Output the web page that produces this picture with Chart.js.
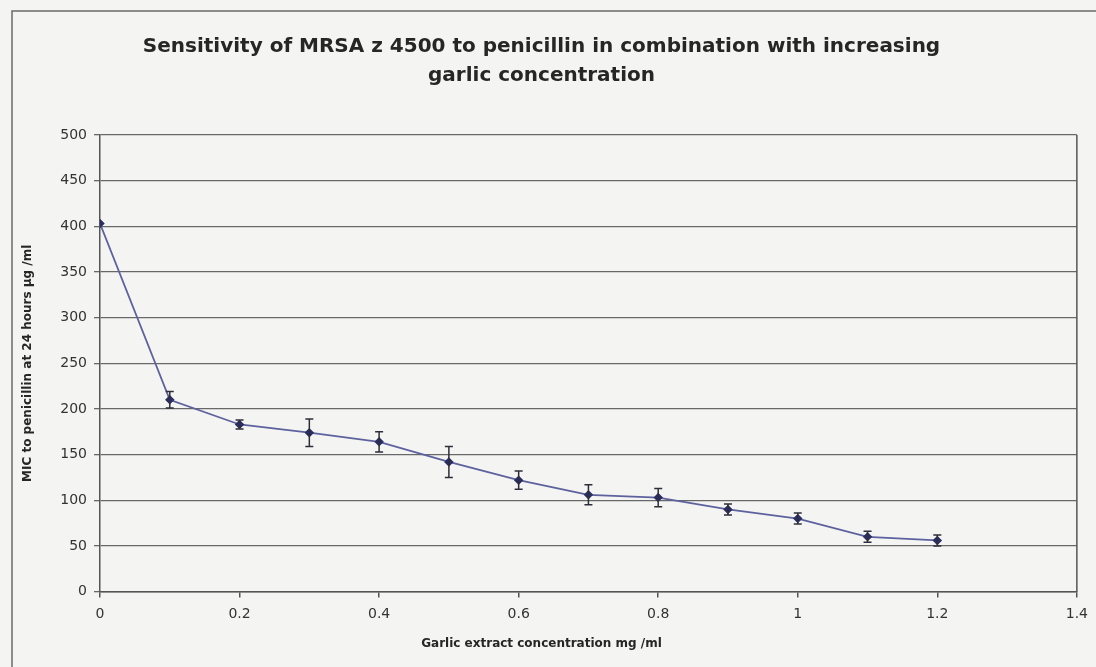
<!DOCTYPE html>
<html>
<head>
<meta charset="utf-8">
<script src="https://cdn.jsdelivr.net/npm/chart.js@4/dist/chart.umd.min.js"></script>
<style>
    html, body { margin: 0; padding: 0; background: #f4f4f2; }
    #wrap { position: relative; width: 1096px; height: 667px; }
</style>
</head>
<body>
<div id="wrap"><canvas id="mic-chart" width="1096" height="667"></canvas></div>
<script>
// values
const garlicConc = [0, 0.1, 0.2, 0.3, 0.4, 0.5, 0.6, 0.7, 0.8, 0.9, 1.0, 1.1, 1.2];
const micValues = [403, 210, 183, 174, 164, 142, 122, 106, 103, 90, 80, 60, 56];
const micErrors = [0, 9, 5, 15, 11, 17, 10, 11, 10, 6, 6, 6, 6];

const chartTitle = ["Sensitivity of MRSA z 4500 to penicillin in combination with increasing", "garlic concentration"];
const xTitle = "Garlic extract concentration mg /ml";
const yTitle = "MIC to penicillin at 24 hours \u00b5g /ml";

document.addEventListener("DOMContentLoaded", function () {
    const ctx = document.getElementById("mic-chart").getContext("2d");

    // page frame + plot border
    const framePlugin = {
        id: "frame",
        beforeDraw(chart) {
            const c = chart.ctx;
            c.save();
            c.fillStyle = "#f4f4f2";
            c.fillRect(0, 0, chart.width, chart.height);
            c.strokeStyle = "#6a6a6a";
            c.lineWidth = 1.5;
            c.beginPath();
            c.moveTo(12, chart.height);
            c.lineTo(12, 11);
            c.lineTo(chart.width, 11);
            c.stroke();
            c.restore();
        },
        afterDraw(chart) {
            const a = chart.chartArea;
            const c = chart.ctx;
            c.save();
            c.strokeStyle = "#555";
            c.lineWidth = 1.5;
            c.beginPath();
            c.moveTo(a.right, a.top);
            c.lineTo(a.right, a.bottom);
            c.stroke();
            c.restore();
        }
    };

    // error bars drawn through the chart's own scales
    const errorBarPlugin = {
        id: "errorBars",
        afterDatasetsDraw(chart) {
            const xs = chart.scales.x;
            const ys = chart.scales.y;
            const c = chart.ctx;
            c.save();
            c.strokeStyle = "#2e2e3a";
            c.lineWidth = 1.5;
            for (let i = 0; i < garlicConc.length; i++) {
                if (!micErrors[i]) continue;
                const x = xs.getPixelForValue(garlicConc[i]);
                const yTop = ys.getPixelForValue(micValues[i] + micErrors[i]);
                const yBot = ys.getPixelForValue(micValues[i] - micErrors[i]);
                c.beginPath();
                c.moveTo(x, yTop);
                c.lineTo(x, yBot);
                c.moveTo(x - 4, yTop);
                c.lineTo(x + 4, yTop);
                c.moveTo(x - 4, yBot);
                c.lineTo(x + 4, yBot);
                c.stroke();
            }
            c.restore();
        }
    };

    const points = garlicConc.map((x, i) => ({ x: x, y: micValues[i] }));

    new Chart(ctx, {
        type: "line",
        data: {
            datasets: [{
                data: points,
                borderColor: "#5d629e",
                borderWidth: 1.8,
                pointStyle: "rectRot",
                pointRadius: 3.5,
                pointBackgroundColor: "#2b2e63",
                pointBorderColor: "#2b2e63",
                fill: false,
                tension: 0
            }]
        },
        plugins: [framePlugin, errorBarPlugin],
        options: {
            responsive: false,
            animation: false,
            layout: { padding: { left: 0, right: 13, top: 0, bottom: 0 } },
            plugins: {
                legend: { display: false },
                tooltip: { enabled: false },
                title: {
                    display: true,
                    text: chartTitle,
                    color: "#262626",
                    font: { family: "DejaVu Sans", size: 20, weight: "bold", lineHeight: 1.45 },
                    padding: { top: 32, bottom: 45 }
                },
                subtitle: {
                    display: true,
                    position: "bottom",
                    text: xTitle,
                    color: "#262626",
                    font: { family: "DejaVu Sans", size: 12, weight: "bold", lineHeight: 1.2 },
                    padding: { top: 10, bottom: 16 }
                }
            },
            scales: {
                x: {
                    type: "linear",
                    min: 0,
                    max: 1.4,
                    ticks: {
                        stepSize: 0.2,
                        color: "#333",
                        padding: 8,
                        font: { family: "DejaVu Sans", size: 14 },
                        callback: function (v) { return String(Math.round(v * 10) / 10); }
                    },
                    grid: { drawOnChartArea: false, drawTicks: true, tickLength: 6, color: "#555", lineWidth: 1.5 },
                    border: { color: "#555", width: 1.5 },
                    afterFit: function (s) { s.height = 35; }
                },
                y: {
                    min: 0,
                    max: 500,
                    ticks: { stepSize: 50, color: "#333", padding: 7, font: { family: "DejaVu Sans", size: 14 } },
                    grid: { color: "#686868", lineWidth: 1.3, tickLength: 6 },
                    border: { color: "#555", width: 1.5 },
                    title: {
                        display: true,
                        text: yTitle,
                        color: "#262626",
                        font: { family: "DejaVu Sans", size: 12, weight: "bold", lineHeight: 1.2 },
                        padding: { top: 21, bottom: 0 }
                    },
                    afterFit: function (s) { s.width = 100; }
                }
            }
        }
    });
});
</script>
</body>
</html>
